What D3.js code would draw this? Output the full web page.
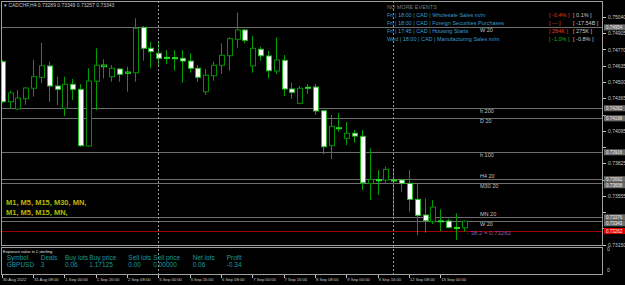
<!DOCTYPE html>
<html>
<head>
<meta charset="utf-8">
<script src="https://cdn.jsdelivr.net/npm/d3@7"></script>
<style>
    body { margin: 0; background: #000; }
    svg { display: block; }
    text { font-family: "Liberation Sans", Arial, sans-serif; }
</style>
</head>
<body>
<svg id="chart" width="625" height="285"></svg>
<script>
// H4 bars, CADCHF, 30 Aug - 13 Sep 2022
const opens = [0.74669,0.74336,0.74276,0.74361,0.74448,0.74539,0.74633,0.74467,0.74281,0.74481,
    0.74439,0.73968,0.74506,0.74627,0.74544,0.74608,0.74572,0.74577,0.74954,0.74780,
    0.74738,0.74705,0.74702,0.74697,0.74674,0.74614,0.74419,0.74552,0.74639,0.74718,
    0.74855,0.74932,0.74633,0.74772,0.74716,0.74591,0.74680,0.74442,0.74323,0.74453,
    0.74458,0.74261,0.73971,0.74118,0.74032,0.74074,0.74049,0.73658,0.73688,0.73686,
    0.73686,0.73686,0.73658,0.73525,0.73395,0.73339,0.73345,0.73345,0.73292,0.73289];
const highs = [0.74683,0.74428,0.74433,0.74458,0.74683,0.74826,0.74669,0.74544,0.74544,0.74525,
    0.74483,0.74614,0.74780,0.74689,0.74641,0.74614,0.74627,0.75029,0.74965,0.74835,
    0.74841,0.74766,0.74766,0.74766,0.74738,0.74641,0.74608,0.74669,0.74822,0.74871,
    0.75076,0.74938,0.74882,0.74793,0.74758,0.74871,0.74724,0.74494,0.74467,0.74483,
    0.74483,0.74267,0.74226,0.74240,0.74168,0.74101,0.74101,0.73949,0.73769,0.73796,
    0.73786,0.73686,0.73769,0.73652,0.73533,0.73519,0.73442,0.73364,0.73409,0.73349];
const lows = [0.74325,0.74284,0.74267,0.74311,0.74378,0.74489,0.74336,0.74309,0.74217,0.74350,
    0.73962,0.73962,0.74267,0.74531,0.74502,0.74502,0.74419,0.74502,0.74677,0.74614,
    0.74641,0.74650,0.74594,0.74494,0.74577,0.74502,0.74392,0.74511,0.74566,0.74594,
    0.74785,0.74822,0.74577,0.74677,0.74531,0.74566,0.74384,0.74359,0.74315,0.74400,
    0.74226,0.73899,0.73858,0.74087,0.73976,0.73996,0.73602,0.73519,0.73561,0.73663,
    0.73381,0.73588,0.73422,0.73228,0.73248,0.73320,0.73262,0.73284,0.73187,0.73257];
const closes = [0.74336,0.74409,0.74367,0.74450,0.74544,0.74635,0.74467,0.74439,0.74481,0.74439,
    0.73971,0.74508,0.74639,0.74641,0.74614,0.74564,0.74583,0.74946,0.74780,0.74752,
    0.74697,0.74702,0.74700,0.74674,0.74614,0.74539,0.74556,0.74639,0.74722,0.74860,
    0.74932,0.74846,0.74780,0.74718,0.74594,0.74683,0.74442,0.74414,0.74448,0.74456,
    0.74259,0.73962,0.74132,0.74120,0.74074,0.74051,0.73663,0.73691,0.73686,0.73774,
    0.73684,0.73658,0.73525,0.73392,0.73347,0.73461,0.73347,0.73292,0.73290,0.73343];

// time axis: one label every 4 bars
const timeLabels = ["30 Aug 2022","31 Aug 08:00","1 Sep 00:00","1 Sep 16:00","2 Sep 08:00",
    "5 Sep 00:00","5 Sep 16:00","6 Sep 08:00","7 Sep 00:00","7 Sep 16:00","8 Sep 08:00",
    "9 Sep 00:00","9 Sep 16:00","12 Sep 08:00","13 Sep 00:00"];
const weekStarts = [20, 50];

// price axis
const priceTicks = [0.75040,0.74905,0.74770,0.74635,0.74500,0.74365,0.74230,0.74095,
    0.73960,0.73825,0.73690,0.73555,0.73420,0.73285,0.73150];

// horizontal levels drawn on the chart
const levelPrices = [0.74954,0.74282,0.74198,0.73916,0.73692,0.73658,0.73376,0.73343];
const levelNames = ["W 20","h 200","D 20","h 100","H4 20","M30 20","MN 20","W 20"];
const fibPrice = 0.73262;
const fibLabel = "- 38.2 = 0.73262";

// header
const symbolHeader = "CADCHF,H4  0.73289 0.73349 0.73257 0.73343";

// news panel
const eventDays = ["Fri","Fri","Fri","Wed"];
const eventTimes = ["18:00","18:00","17:45","18:00"];
const eventCurrencies = ["CAD","CAD","CAD","CAD"];
const eventNames = ["Wholesale Sales m/m","Foreign Securities Purchases","Housing Starts","Manufacturing Sales m/m"];
const eventActual = ["[ -0.4% ]","[ --- ]","[ 284K ]","[ -1.0% ]"];
const eventTone = ["neg","neg","neg","pos"];
const eventForecast = ["[ 0.1% ]","[ -17.54B ]","[ 275K ]","[ -0.8% ]"];

// timeframe notes
const tfNotes = ["M1, M5, M15, M30, MN,", "M1, M5, M15, MN,"];

// exposure table
const tableHeaders = ["Symbol","Deals","Buy lots","Buy price","Sell lots","Sell price","Net lots","Profit"];
const tableValues = ["GBPUSD","3","0.06","1.17125","0.00","0.00000","0.06","-0.34"];

function render() {
    let svg = d3.select("#chart");
    let W = 625, H = 285;

    // main window box
    let left = 1, right = 602, top = 1, bottom = 245;
    let subTop = 247, subBottom = 274;

    svg.append("rect").attr("width", W).attr("height", H).style("fill", "#000");

    let bars = opens.map(function(o, i) {
        return {i: i, o: o, h: highs[i], l: lows[i], c: closes[i]};
    });

    let x = d3.scaleLinear().domain([0, 59]).range([1.7, 463.7]);
    let y = d3.scaleLinear().domain([0.73150, 0.75040]).range([244.5, 17]);

    svg.append("clipPath").attr("id", "mainclip")
        .append("rect").attr("x", left).attr("y", top)
        .attr("width", right - left).attr("height", bottom - top);

    let main = svg.append("g").attr("clip-path", "url(#mainclip)");

    // levels
    main.selectAll(".level").data(levelPrices).enter().append("line")
        .attr("class", "level")
        .attr("x1", left).attr("x2", right)
        .attr("y1", function(d) { return Math.round(y(d)) + 0.5; })
        .attr("y2", function(d) { return Math.round(y(d)) + 0.5; })
        .style("stroke", "#6e6e6e");

    main.append("line")
        .attr("x1", left).attr("x2", right)
        .attr("y1", Math.round(y(fibPrice)) + 0.5)
        .attr("y2", Math.round(y(fibPrice)) + 0.5)
        .style("stroke", "#9b0000");

    // week separators
    svg.selectAll(".sep").data(weekStarts).enter().append("line")
        .attr("class", "sep")
        .attr("x1", function(d) { return Math.round(x(d)) + 0.5; })
        .attr("x2", function(d) { return Math.round(x(d)) + 0.5; })
        .attr("y1", top).attr("y2", subBottom)
        .style("stroke", "#9a9a9a")
        .style("stroke-dasharray", "2,2");

    // candles
    let candle = main.selectAll(".candle").data(bars).enter().append("g").attr("class", "candle");

    candle.append("line")
        .attr("x1", function(d) { return Math.round(x(d.i)) + 0.5; })
        .attr("x2", function(d) { return Math.round(x(d.i)) + 0.5; })
        .attr("y1", function(d) { return y(d.h); })
        .attr("y2", function(d) { return y(d.l); })
        .style("stroke", "#00a000");

    candle.append("rect")
        .attr("x", function(d) { return Math.round(x(d.i)) - 2 + 0.5; })
        .attr("width", 5)
        .attr("y", function(d) { return y(Math.max(d.o, d.c)); })
        .attr("height", function(d) { return Math.max(1, Math.abs(y(d.o) - y(d.c))); })
        .style("fill", function(d) { return d.c < d.o ? "#ffffff" : "#000000"; })
        .style("stroke", function(d) {
            if (Math.abs(y(d.o) - y(d.c)) < 2) return "#22dd22";
            return d.c < d.o ? "#22bb22" : "#009000";
        });

    // level labels: when two levels sit close, the upper name goes above its line
    main.selectAll(".lvlabel").data(levelPrices).enter().append("text")
        .attr("class", "lvlabel")
        .attr("x", 480)
        .attr("y", function(d, i) {
            let next = levelPrices[i + 1];
            if (next !== undefined && Math.abs(y(next) - y(d)) < 6) return y(d) - 1.5;
            return y(d) + 5;
        })
        .style("font-size", "5.5px")
        .style("fill", "#c0c0c0")
        .text(function(d, i) { return levelNames[i]; });

    main.append("text")
        .attr("x", 467).attr("y", y(fibPrice) + 4)
        .style("font-size", "6px")
        .style("fill", "#8a5aa8")
        .text(fibLabel);

    // frames
    svg.append("rect").attr("x", left + 0.5).attr("y", top + 0.5)
        .attr("width", right - left).attr("height", bottom - top)
        .style("fill", "none").style("stroke", "#a0a0a0");
    svg.append("rect").attr("x", left + 0.5).attr("y", subTop + 0.5)
        .attr("width", right - left).attr("height", subBottom - subTop)
        .style("fill", "none").style("stroke", "#a0a0a0");

    // price boxes for levels, pushed apart where they would collide
    let boxes = levelPrices.map(function(p) { return {p: p, fill: "#6a6a6a"}; });
    boxes.push({p: fibPrice, fill: "#e00000"});
    boxes.sort(function(a, b) { return b.p - a.p; });
    let lastY = -100;
    boxes.forEach(function(b) {
        b.y = Math.max(y(b.p), lastY + 6);
        lastY = b.y;
    });

    // price axis (labels hidden under a box are skipped, as the terminal does)
    let axis = svg.append("g");
    axis.selectAll(".ptick").data(priceTicks).enter().append("line")
        .attr("x1", right + 1).attr("x2", right + 4)
        .attr("y1", function(d) { return Math.round(y(d)) + 0.5; })
        .attr("y2", function(d) { return Math.round(y(d)) + 0.5; })
        .style("stroke", "#c0c0c0");
    let freeTicks = priceTicks.filter(function(t) {
        return boxes.every(function(b) { return Math.abs(b.y - y(t)) > 5.5; });
    });
    axis.selectAll(".plabel").data(freeTicks).enter().append("text")
        .attr("x", right + 6)
        .attr("y", function(d) { return y(d) + 2; })
        .style("font-size", "5px")
        .style("fill", "#c8c8c8")
        .text(function(d) { return d.toFixed(5); });

    axis.selectAll(".pbox").data(boxes).enter().append("rect")
        .attr("x", right + 2).attr("width", 21)
        .attr("y", function(d) { return d.y - 3; })
        .attr("height", 6)
        .style("fill", function(d) { return d.fill; });
    axis.selectAll(".pboxlabel").data(boxes).enter().append("text")
        .attr("x", right + 4)
        .attr("y", function(d) { return d.y + 1.7; })
        .style("font-size", "4.5px")
        .style("fill", "#f0f0f0")
        .text(function(d) { return d.p.toFixed(5); });

    // sub window zero labels
    axis.selectAll(".zero").data([subTop + 4, subBottom - 2]).enter().append("text")
        .attr("x", right + 5).attr("y", function(d) { return d; })
        .style("font-size", "5px").style("fill", "#c8c8c8")
        .text("0");

    // time axis
    svg.selectAll(".tlabel").data(timeLabels).enter().append("text")
        .attr("x", function(d, i) { return x(i * 4) + 1; })
        .attr("y", 281)
        .style("font-size", "4.2px")
        .style("fill", "#c8c8c8")
        .text(function(d) { return d; });
    svg.selectAll(".ttick").data(timeLabels).enter().append("line")
        .attr("x1", function(d, i) { return Math.round(x(i * 4)) + 0.5; })
        .attr("x2", function(d, i) { return Math.round(x(i * 4)) + 0.5; })
        .attr("y1", subBottom + 1).attr("y2", subBottom + 4)
        .style("stroke", "#c0c0c0");

    // header
    svg.append("text").attr("x", 4).attr("y", 7)
        .style("font-size", "5px").style("fill", "#c8c8c8")
        .text("\u25BE " + symbolHeader);

    // news panel
    svg.append("text").attr("x", 387).attr("y", 9)
        .style("font-size", "5.5px").style("fill", "#7a7a7a")
        .text("NO MORE EVENTS");
    let rowY = [17, 25, 33, 40.5];
    let ev = svg.selectAll(".event").data(eventNames).enter().append("g").attr("class", "event");
    ev.append("text").attr("x", 387).attr("y", function(d, i) { return rowY[i]; })
        .style("font-size", "5.5px").style("fill", "#3a9cc8")
        .text(function(d, i) {
            return eventDays[i] + "  |  " + eventTimes[i] + "  |  " + eventCurrencies[i] + "  |  " + d;
        });
    ev.append("text").attr("x", 549).attr("y", function(d, i) { return rowY[i]; })
        .style("font-size", "5.5px")
        .style("fill", function(d, i) { return eventTone[i] == "neg" ? "#e03c1e" : "#1fb01f"; })
        .text(function(d, i) { return eventActual[i]; });
    ev.append("text").attr("x", 573).attr("y", function(d, i) { return rowY[i]; })
        .style("font-size", "5.5px").style("fill", "#c8c8c8")
        .text(function(d, i) { return eventForecast[i]; });

    // timeframe notes
    svg.selectAll(".tf").data(tfNotes).enter().append("text")
        .attr("x", 6).attr("y", function(d, i) { return 205 + i * 9.5; })
        .style("font-size", "7.5px").style("font-weight", "bold")
        .style("fill", "#b8b800")
        .text(function(d) { return d; });

    // exposure table
    let colX = [6.7, 40.7, 65, 89.3, 128.3, 153.3, 192.7, 226.7];
    svg.append("text").attr("x", 3).attr("y", 253)
        .style("font-size", "4px").style("fill", "#e0e0e0")
        .text("Exposure value in \u00A3 sterling");
    svg.selectAll(".th").data(tableHeaders).enter().append("text")
        .attr("x", function(d, i) { return colX[i]; }).attr("y", 260)
        .style("font-size", "6.5px").style("fill", "#1a9a9a")
        .text(function(d) { return d; });
    svg.selectAll(".td").data(tableValues).enter().append("text")
        .attr("x", function(d, i) { return colX[i]; }).attr("y", 267)
        .style("font-size", "6.5px").style("fill", "#1a9a9a")
        .text(function(d) { return d; });
}

render();
</script>
</body>
</html>
